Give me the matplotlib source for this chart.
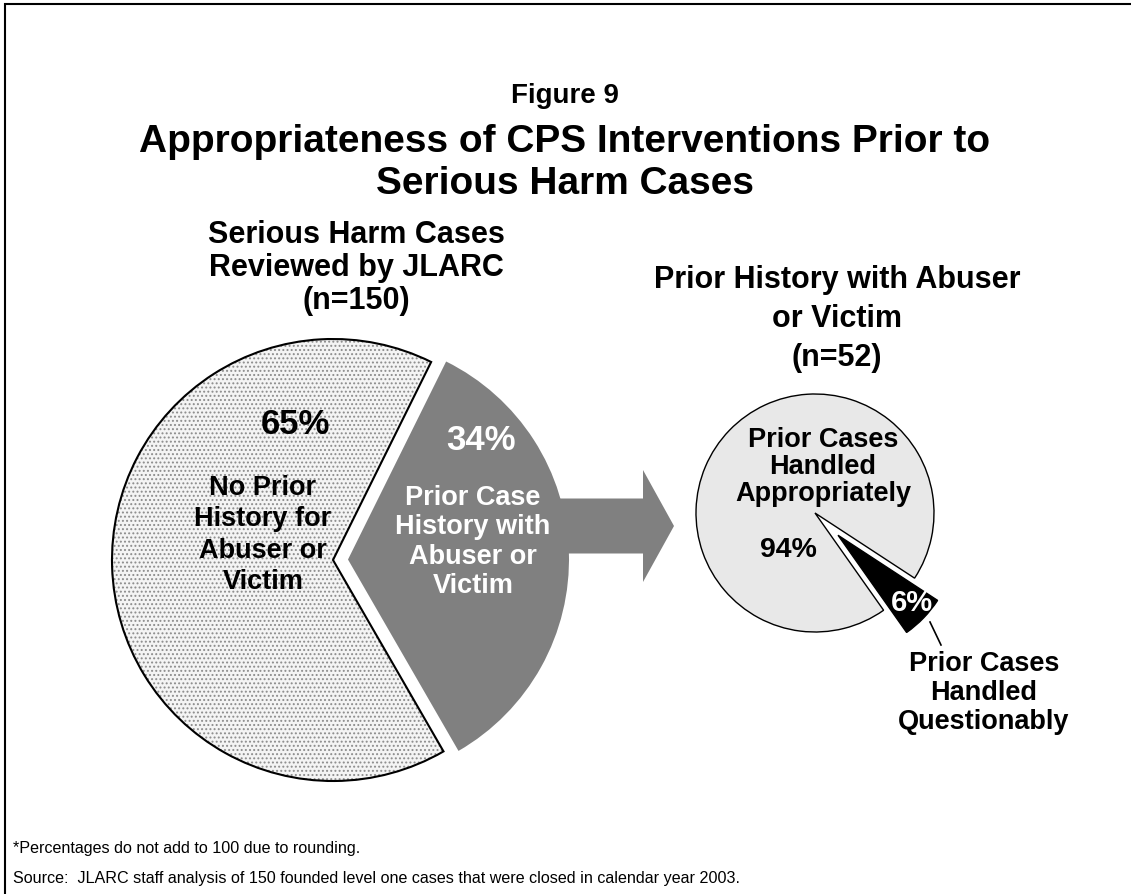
import matplotlib
matplotlib.use("Agg")
import matplotlib.pyplot as plt
from matplotlib.patches import Wedge, Rectangle, FancyArrow

plt.rcParams['font.family'] = ['Liberation Sans', 'DejaVu Sans']
plt.rcParams['hatch.linewidth'] = 0.9

# data
left_values = [34, 65]          # prior history, no prior history
left_labels = ['Prior Case\nHistory with\nAbuser or\nVictim',
               'No Prior\nHistory for\nAbuser or\nVictim']
right_values = [6, 94]          # handled questionably, handled appropriately
right_labels = ['Prior Cases\nHandled\nQuestionably',
                'Prior Cases\nHandled\nAppropriately']

W, H = 1131, 894


def Y(py):
    # pixel row (from top) -> data y
    return H - py


fig = plt.figure(figsize=(W / 100, H / 100), dpi=100)
ax = fig.add_axes([0, 0, 1, 1])

# frame line along top and left
ax.add_patch(Rectangle((5, -20), W + 40, Y(4) + 20, fill=False,
                       edgecolor='black', linewidth=1.5, zorder=0))

# titles
ax.text(565, Y(96), 'Figure 9', ha='center', va='center',
        fontsize=20, fontweight='bold')
ax.text(565, Y(163), 'Appropriateness of CPS Interventions Prior to\nSerious Harm Cases',
        ha='center', va='center', fontsize=28, fontweight='bold', linespacing=1.2)

# arrow between the pies
ax.add_patch(FancyArrow(500, Y(526), 174, 0, width=55, head_width=112,
                        head_length=31, length_includes_head=True,
                        color='#808080', linewidth=0, zorder=1))

# left pie (explode is in data units here)
lw, _ = ax.pie(left_values, explode=[15, 0], startangle=-60,
               center=(333, Y(560)), radius=221, colors=['#808080', '#f4f4f4'],
               wedgeprops=dict(linewidth=0), frame=True)
for w in lw:
    w.set_zorder(2)
lw[1].set_hatch('....')
lw[1].set_edgecolor('#8c8c8c')
ax.add_patch(Wedge(lw[1].center, lw[1].r, lw[1].theta1, lw[1].theta2,
                   fill=False, edgecolor='black', linewidth=1.5, zorder=3))

ax.text(356, Y(268), 'Serious Harm Cases\nReviewed by JLARC\n(n=150)', ha='center',
        va='center', fontsize=22, fontweight='bold', linespacing=1.15)
ax.text(295, Y(425), f'{left_values[1]}%', ha='center', va='center',
        fontsize=25, fontweight='bold', zorder=4)
ax.text(263, Y(535), left_labels[1], ha='center', va='center',
        fontsize=19.5, fontweight='bold', linespacing=1.27, zorder=4)
ax.text(481, Y(440), f'{left_values[0]}%', ha='center', va='center',
        fontsize=25, fontweight='bold', color='white', zorder=4)
ax.text(473, Y(542), left_labels[0], ha='center', va='center',
        fontsize=19.5, fontweight='bold', color='white', linespacing=1.17, zorder=4)

# right pie
rw, _ = ax.pie(right_values, explode=[32, 0], startangle=-54.8,
               center=(815, Y(513)), radius=119, colors=['black', '#e8e8e8'],
               wedgeprops=dict(edgecolor='black', linewidth=1), frame=True)

ax.text(837, Y(319), 'Prior History with Abuser\nor Victim\n(n=52)', ha='center',
        va='center', fontsize=22, fontweight='bold', linespacing=1.4)
ax.text(823, Y(467), right_labels[1], ha='center', va='center',
        fontsize=19.5, fontweight='bold', linespacing=1.05, zorder=4)
ax.text(788, Y(550), f'{right_values[1]}%', ha='center', va='center',
        fontsize=20.5, fontweight='bold', zorder=4)
ax.text(912, Y(603), f'{right_values[0]}%', ha='center', va='center',
        fontsize=21, fontweight='bold', color='white', zorder=4)
ax.plot([930, 941], [Y(622), Y(645)], color='black', linewidth=1.2, zorder=4)
ax.text(984, Y(693), right_labels[0], ha='center', va='center',
        fontsize=19.5, fontweight='bold', linespacing=1.16, zorder=4)

# notes
ax.text(13, Y(848), '*Percentages do not add to 100 due to rounding.',
        ha='left', va='center', fontsize=11.6)
ax.text(13, Y(878), 'Source:  JLARC staff analysis of 150 founded level one cases '
        'that were closed in calendar year 2003.', ha='left', va='center', fontsize=11.6)

ax.set_xlim(0, W)
ax.set_ylim(0, H)
ax.set_aspect('auto')
ax.axis('off')

fig.savefig('out.png', dpi=100)
